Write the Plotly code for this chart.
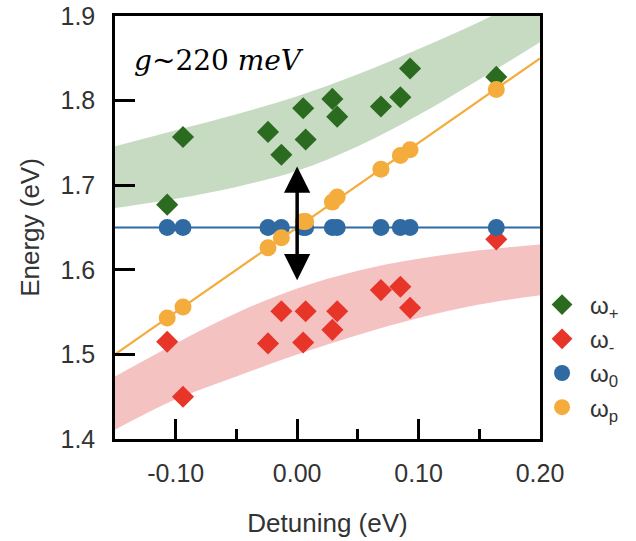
import plotly.graph_objects as go

# Detuning of each measured sample (eV)
detuning = [-0.107, -0.094, -0.024, -0.013, 0.005, 0.007, 0.029, 0.033, 0.069, 0.085, 0.093, 0.164]

# Measured branch energies (eV)
omega_plus = [1.677, 1.757, 1.763, 1.736, 1.791, 1.754, 1.802, 1.781, 1.793, 1.804, 1.838, 1.828]
omega_minus = [1.515, 1.450, 1.513, 1.551, 1.514, 1.551, 1.529, 1.551, 1.576, 1.580, 1.555, 1.636]
omega_0 = [1.65, 1.65, 1.65, 1.65, 1.65, 1.65, 1.65, 1.65, 1.65, 1.65, 1.65, 1.65]
omega_p = [1.543, 1.556, 1.626, 1.638, 1.657, 1.657, 1.680, 1.686, 1.719, 1.735, 1.742, 1.813]

# Uncoupled reference lines
line_x = [-0.15, 0.20]
emitter_line = [1.65, 1.65]
photon_line = [1.50, 1.85]

# Shaded polariton bands: lower / upper edge at sampled detunings
band_x = [-0.15, -0.10, -0.05, 0.00, 0.05, 0.10, 0.15, 0.20]
upper_band_lo = [1.673, 1.684, 1.698, 1.717, 1.746, 1.783, 1.825, 1.869]
upper_band_hi = [1.746, 1.765, 1.784, 1.805, 1.831, 1.861, 1.893, 1.929]
lower_band_lo = [1.411, 1.447, 1.474, 1.500, 1.523, 1.543, 1.559, 1.570]
lower_band_hi = [1.474, 1.513, 1.549, 1.578, 1.599, 1.613, 1.623, 1.630]

# Splitting arrow at zero detuning
arrow_x = 0.0
arrow_y = [1.586, 1.722]

x_tickvals = [-0.10, 0.00, 0.10, 0.20]
x_ticktext = ["-0.10", "0.00", "0.10", "0.20"]
y_tickvals = [1.4, 1.5, 1.6, 1.7, 1.8, 1.9]

legend_names = ["ω<sub>+</sub>", "ω<sub>-</sub>", "ω<sub>0</sub>", "ω<sub>p</sub>"]

GREEN = "#2b6b1f"
RED = "#e8352a"
BLUE = "#2f6aa3"
ORANGE = "#f4ad3d"

fig = go.Figure()

def band(lo, hi, color):
    fig.add_trace(go.Scatter(x=band_x, y=lo, mode="lines", line=dict(width=0, shape="spline"),
                             showlegend=False, hoverinfo="skip"))
    fig.add_trace(go.Scatter(x=band_x, y=hi, mode="lines", line=dict(width=0, shape="spline"),
                             fill="tonexty", fillcolor=color, showlegend=False, hoverinfo="skip"))

band(upper_band_lo, upper_band_hi, "rgba(120,170,110,0.42)")
band(lower_band_lo, lower_band_hi, "rgba(232,110,110,0.42)")

fig.add_trace(go.Scatter(x=line_x, y=emitter_line, mode="lines",
                         line=dict(color=BLUE, width=2.2), showlegend=False, hoverinfo="skip"))
fig.add_trace(go.Scatter(x=line_x, y=photon_line, mode="lines",
                         line=dict(color=ORANGE, width=2.2), showlegend=False, hoverinfo="skip"))

series = [
    (omega_plus, GREEN, "diamond", 17),
    (omega_minus, RED, "diamond", 17),
    (omega_0, BLUE, "circle", 17),
    (omega_p, ORANGE, "circle", 17),
]
for i, (vals, col, sym, sz) in enumerate(series):
    fig.add_trace(go.Scatter(x=detuning, y=vals, mode="markers", name=legend_names[i],
                             legendgroup=f"g{i}",
                             marker=dict(color=col, symbol=sym, size=sz, line=dict(width=0))))

# double-headed arrow
fig.add_annotation(x=arrow_x, y=arrow_y[1], ax=arrow_x, ay=arrow_y[0], xref="x", yref="y",
                   axref="x", ayref="y", text="", showarrow=True, arrowhead=2, startarrowhead=2,
                   arrowside="end+start", arrowwidth=3.5, arrowsize=1.5, startarrowsize=1.5,
                   arrowcolor="black")

fig.add_annotation(x=0.04, y=0.895, xref="paper", yref="paper", xanchor="left", yanchor="middle",
                   text="<i>g</i>~220 <i>meV</i>", showarrow=False,
                   font=dict(family="DejaVu Serif", size=28, color="black"))

tick_font = dict(family="Liberation Sans, Arial", size=25, color="#333333")
title_font = dict(family="Liberation Sans, Arial", size=26, color="#333333")

fig.update_xaxes(range=[-0.15, 0.20], tickvals=x_tickvals, ticktext=x_ticktext,
                 ticks="inside", ticklen=20, tickwidth=2.5, tickcolor="black",
                 minor=dict(tickvals=[-0.05, 0.05, 0.15], ticks="inside", ticklen=10,
                            tickwidth=2.5, tickcolor="black"),
                 showline=True, linewidth=2.5, linecolor="black", mirror=True, automargin=False,
                 showgrid=False, zeroline=False, tickfont=tick_font, ticklabelstandoff=10,
                 title=dict(text="Detuning (eV)", font=title_font, standoff=29))
fig.update_yaxes(range=[1.4, 1.9], tickvals=y_tickvals, tickformat=".1f",
                 ticks="inside", ticklen=20, tickwidth=2.5, tickcolor="black",
                 showline=True, linewidth=2.5, linecolor="black", mirror=True, automargin=False,
                 showgrid=False, zeroline=False, tickfont=tick_font, ticklabelstandoff=12,
                 title=dict(text="Energy (eV)", font=title_font, standoff=14))

fig.update_layout(
    width=636, height=541,
    margin=dict(l=115, r=96, t=16, b=102),
    paper_bgcolor="white", plot_bgcolor="white",
    legend=dict(x=0.986, y=0.37, xanchor="left", yanchor="top", tracegroupgap=0,
                itemwidth=46,
                font=dict(family="Liberation Sans, Arial", size=24, color="#333333"),
                bgcolor="rgba(0,0,0,0)", itemsizing="trace"),
)

fig.write_html("out.html")
